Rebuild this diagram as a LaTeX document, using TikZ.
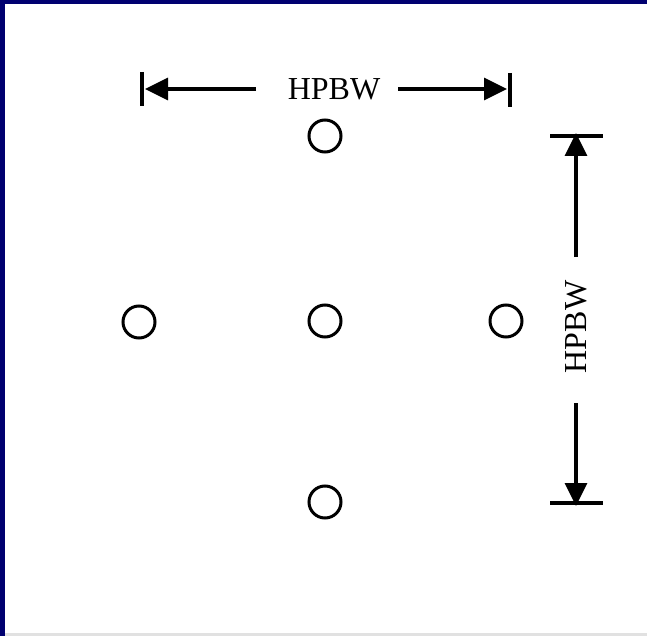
\documentclass[tikz,border=0pt]{standalone}
\usepackage{fontspec}
\setmainfont{Liberation Serif}
\usetikzlibrary{arrows.meta}
\definecolor{framenavy}{RGB}{0,0,112}
\definecolor{edgegray}{RGB}{225,225,225}
\tikzset{
  spot/.style={circle, draw=black, line width=3pt, minimum size=32pt, inner sep=0pt},
  dimlabel/.style={font=\fontsize{32}{32}\selectfont, inner sep=0pt},
  dimarrow/.style={line width=3.4pt, -{Triangle[length=23pt, width=22pt]}},
  endbar/.style={line width=4pt},
}
\begin{document}
\begin{tikzpicture}[x=1pt, y=-1pt]
  % page and frame
  \useasboundingbox (0,0) rectangle (647,636);
  \fill[white] (0,0) rectangle (647,636);
  \fill[framenavy] (0,0) rectangle (647,4);
  \fill[framenavy] (0,0) rectangle (5,636);
  \fill[edgegray] (5,633) rectangle (647,636);

  % beam spots
  \node[spot] (top)    at (325,136) {};
  \node[spot] (centre) at (325,321) {};
  \node[spot] (left)   at (139,322) {};
  \node[spot] (right)  at (506,321) {};
  \node[spot] (bottom) at (325,502) {};

  % horizontal beamwidth
  \coordinate (hl) at (142,89);
  \coordinate (hr) at (510,89);
  \draw[endbar] (142,72) -- (142,106);
  \draw[endbar] (510,73) -- (510,107);
  \node[dimlabel] (htext) at (334,89) {HPBW};
  \draw[dimarrow] (256,89) -- ([xshift=3pt]hl);
  \draw[dimarrow] (398,89) -- ([xshift=-3pt]hr);

  % vertical beamwidth
  \coordinate (vt) at (576,136);
  \coordinate (vb) at (576,503);
  \draw[endbar] (550,136) -- (603,136);
  \draw[endbar] (550,503) -- (603,503);
  \node[dimlabel, rotate=90] (vtext) at (576,327) {HPBW};
  \draw[dimarrow] (576,257) -- ([yshift=3pt]vt);
  \draw[dimarrow] (576,403) -- ([yshift=-3pt]vb);
\end{tikzpicture}
\end{document}
